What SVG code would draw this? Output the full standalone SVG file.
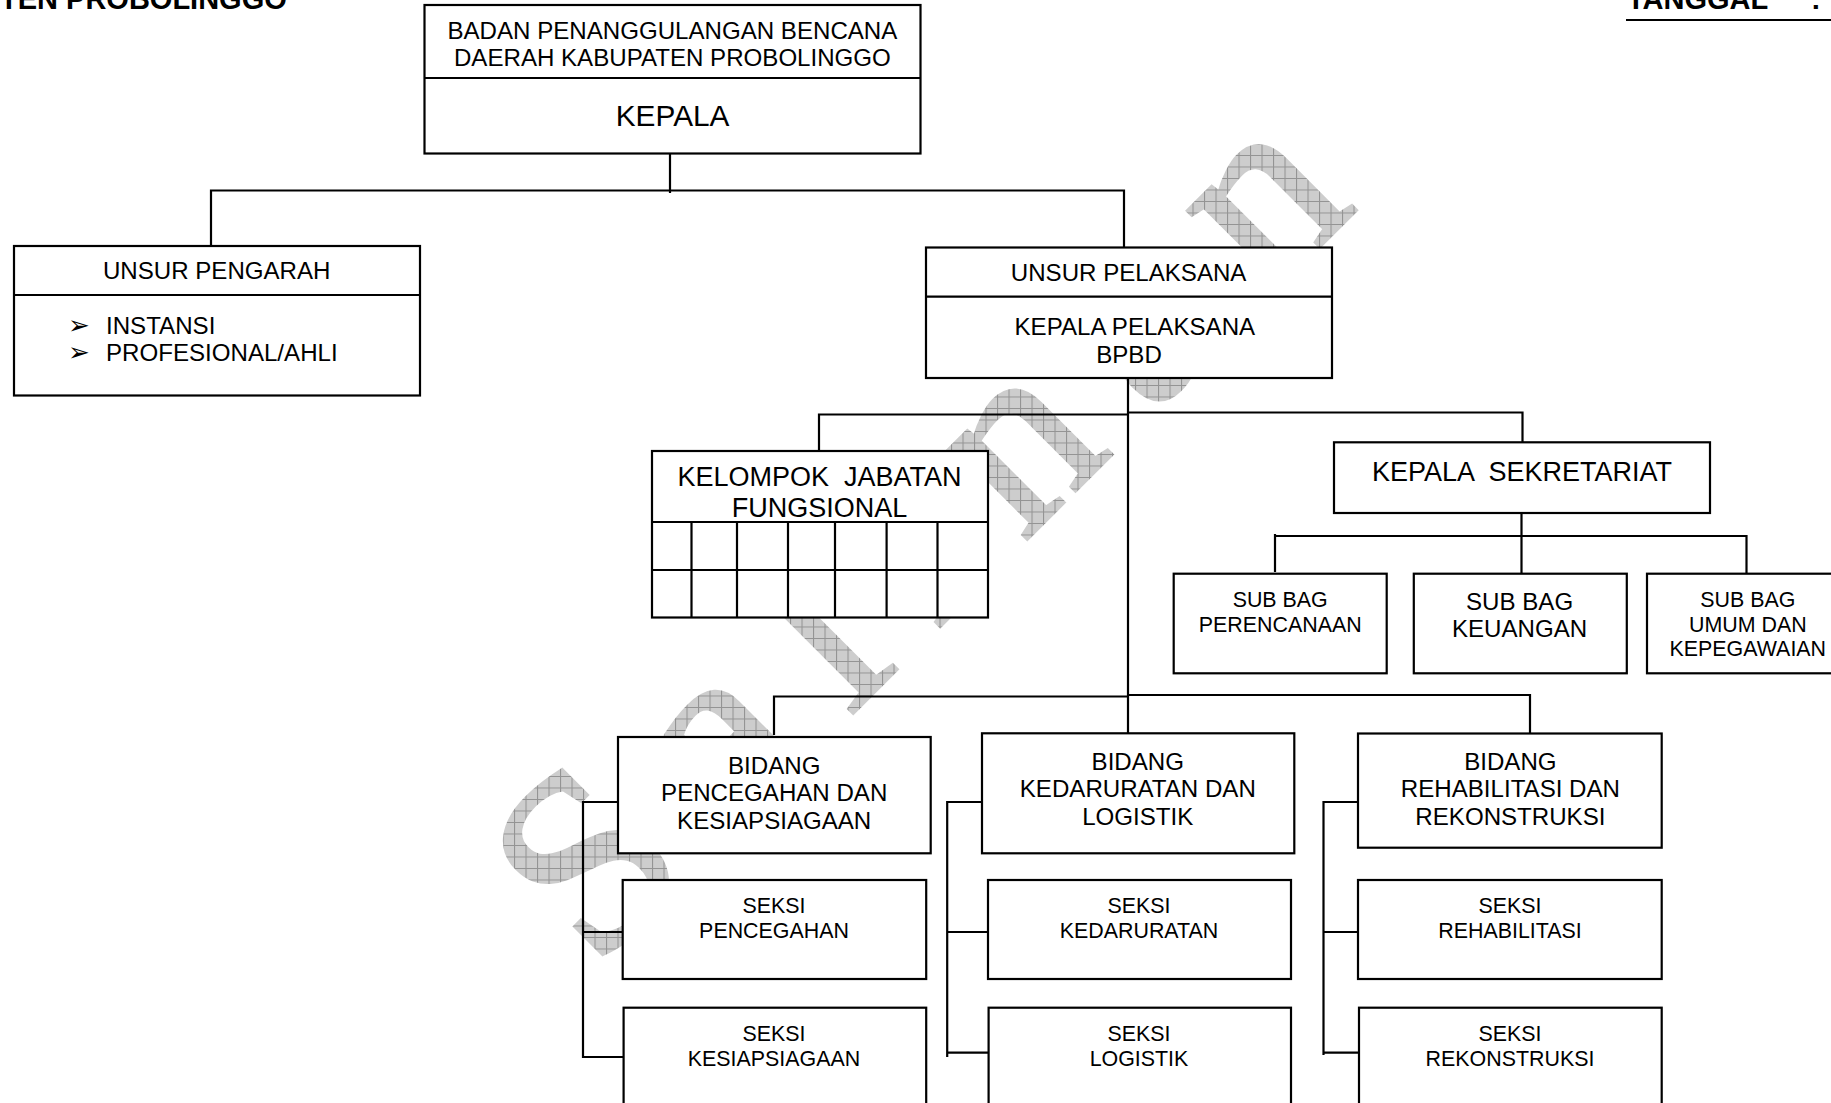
<svg xmlns="http://www.w3.org/2000/svg" width="1831" height="1103" viewBox="0 0 1831 1103">
<style>
.t{font-family:"Liberation Sans",Arial,sans-serif;fill:#000;text-anchor:middle;white-space:pre}
.s22{font-size:21.4px}.s24{font-size:24.1px}.s27{font-size:27px}.s29{font-size:29.8px}
.h{font-family:"Liberation Sans",Arial,sans-serif;font-weight:bold;font-size:29px;fill:#000;white-space:pre}
.b{fill:#fff;stroke:#000;stroke-width:2.2}
.l{fill:none;stroke:#000;stroke-width:2.2}
.c{fill:none;stroke:#000;stroke-width:2.2}
.w{font-family:"Liberation Serif","Times New Roman",serif;font-size:258px;letter-spacing:51px;fill:url(#grid);stroke:url(#grid);stroke-width:4}
.bl{font-family:"DejaVu Sans",sans-serif;font-size:26px;fill:#000}
</style>
<defs>
<pattern id="grid" width="11.5" height="11.5" patternUnits="userSpaceOnUse" patternTransform="rotate(45)">
<rect width="11.5" height="11.5" fill="#cdcdcd"/>
<path d="M0 .5H11.5M.5 0V11.5" stroke="#939393" stroke-width="1.1" fill="none"/>
</pattern>
</defs>
<rect width="1831" height="1103" fill="#fff"/>
<g id="watermark"><text class="w" x="-15.5" transform="translate(606 960) rotate(-45)">Salinan</text></g>
<g id="header">
<text class="h" x="0" y="9">TEN PROBOLINGGO</text>
<text class="h" x="1627" y="9">TANGGAL</text>
<text class="h" x="1811" y="9">:</text>
<path class="l" d="M1626 20H1831"/>
</g>
<g id="connectors">
<path class="c" d="M670 154V193M211 245V190.5H1124V248"/>
<path class="c" d="M1128 378V733M819 452V414.5H1128M1128 412.5H1522.5V442"/>
<path class="c" d="M1521.5 513V576M1275 572V534M1275 536H1746.5V574"/>
<path class="c" d="M774 735V696.5H1128M1128 695H1530V733"/>
<path class="c" d="M618 802H583V1057H624M583 932H623"/>
<path class="c" d="M982 802H947.2V1057M947.2 932H988M947.2 1052.7H988"/>
<path class="c" d="M1358 802H1323.5V1055M1323.5 932H1358M1323.5 1052.7H1359"/>
</g>
<g id="kepala">
<rect class="b" x="424.5" y="5" width="496" height="148.5"/>
<path class="l" d="M424.5 78H920.5"/>
<text class="t s24" x="672.4" y="39.3">BADAN PENANGGULANGAN BENCANA</text>
<text class="t s24" x="672.4" y="66">DAERAH KABUPATEN PROBOLINGGO</text>
<text class="t s29" x="672.6" y="126">KEPALA</text>
</g>
<g id="unsur-pengarah">
<rect class="b" x="14" y="246" width="406" height="149.5"/>
<path class="l" d="M14 295H420"/>
<text class="t s24" x="216.7" y="278.7">UNSUR PENGARAH</text>
<text class="bl" x="68" y="334">➢</text>
<text class="bl" x="68" y="361">➢</text>
<text class="t s24" x="106" y="334" style="text-anchor:start">INSTANSI</text>
<text class="t s24" x="106" y="361" style="text-anchor:start">PROFESIONAL/AHLI</text>
</g>
<g id="unsur-pelaksana">
<rect class="b" x="926" y="247.5" width="406" height="130.5"/>
<path class="l" d="M926 296.7H1332"/>
<text class="t s24" x="1128.6" y="281">UNSUR PELAKSANA</text>
<text class="t s24" x="1134.8" y="335.3">KEPALA PELAKSANA</text>
<text class="t s24" x="1129" y="363.3">BPBD</text>
</g>
<g id="kelompok-jabatan-fungsional">
<rect class="b" x="652" y="451" width="336" height="166.5"/>
<path class="l" d="M652 522H988M652 570H988M691.5 522V617.5M737 522V617.5M788 522V617.5M835 522V617.5M886.6 522V617.5M937.5 522V617.5"/>
<text class="t s27" x="819.6" y="486">KELOMPOK  JABATAN</text>
<text class="t s27" x="819.6" y="516.7">FUNGSIONAL</text>
</g>
<g id="kepala-sekretariat">
<rect class="b" x="1334" y="442.3" width="376" height="70.7"/>
<text class="t s27" x="1522" y="481">KEPALA  SEKRETARIAT</text>
</g>
<g id="subbag-perencanaan">
<rect class="b" x="1173.7" y="573.7" width="213" height="99.6"/>
<text class="t s22" x="1280.2" y="606.7">SUB BAG</text>
<text class="t s22" x="1280.2" y="632">PERENCANAAN</text>
</g>
<g id="subbag-keuangan">
<rect class="b" x="1413.8" y="573.7" width="213" height="99.6"/>
<text class="t s24" x="1519.6" y="610">SUB BAG</text>
<text class="t s24" x="1519.6" y="637">KEUANGAN</text>
</g>
<g id="subbag-umum">
<rect class="b" x="1647" y="573.7" width="213" height="99.6"/>
<text class="t s22" x="1747.8" y="606.7">SUB BAG</text>
<text class="t s22" x="1747.8" y="632">UMUM DAN</text>
<text class="t s22" x="1747.8" y="655.7">KEPEGAWAIAN</text>
</g>
<g id="bidang-pencegahan">
<rect class="b" x="618" y="737" width="312.7" height="116.3"/>
<text class="t s24" x="774.2" y="773.7">BIDANG</text>
<text class="t s24" x="774.2" y="801">PENCEGAHAN DAN</text>
<text class="t s24" x="774.2" y="828.7">KESIAPSIAGAAN</text>
</g>
<g id="seksi-pencegahan">
<rect class="b" x="622.7" y="880" width="303.5" height="99"/>
<text class="t s22" x="774" y="913">SEKSI</text>
<text class="t s22" x="774" y="938">PENCEGAHAN</text>
</g>
<g id="seksi-kesiapsiagaan">
<rect class="b" x="623.6" y="1007.7" width="302.6" height="120"/>
<text class="t s22" x="774" y="1040.7">SEKSI</text>
<text class="t s22" x="774" y="1066">KESIAPSIAGAAN</text>
</g>
<g id="bidang-kedaruratan">
<rect class="b" x="982" y="733.3" width="312.3" height="120"/>
<text class="t s24" x="1137.8" y="770">BIDANG</text>
<text class="t s24" x="1137.8" y="797.3">KEDARURATAN DAN</text>
<text class="t s24" x="1137.8" y="825">LOGISTIK</text>
</g>
<g id="seksi-kedaruratan">
<rect class="b" x="988" y="880" width="303" height="99"/>
<text class="t s22" x="1139" y="913">SEKSI</text>
<text class="t s22" x="1139" y="938">KEDARURATAN</text>
</g>
<g id="seksi-logistik">
<rect class="b" x="988.6" y="1007.7" width="302.4" height="120"/>
<text class="t s22" x="1139" y="1040.7">SEKSI</text>
<text class="t s22" x="1139" y="1066">LOGISTIK</text>
</g>
<g id="bidang-rehabilitasi">
<rect class="b" x="1358" y="733.5" width="303.7" height="114.2"/>
<text class="t s24" x="1510.4" y="770">BIDANG</text>
<text class="t s24" x="1510.4" y="797.3">REHABILITASI DAN</text>
<text class="t s24" x="1510.4" y="825">REKONSTRUKSI</text>
</g>
<g id="seksi-rehabilitasi">
<rect class="b" x="1358" y="880" width="303.7" height="99"/>
<text class="t s22" x="1510" y="913">SEKSI</text>
<text class="t s22" x="1510" y="938">REHABILITASI</text>
</g>
<g id="seksi-rekonstruksi">
<rect class="b" x="1359" y="1007.7" width="302.7" height="120"/>
<text class="t s22" x="1510" y="1040.7">SEKSI</text>
<text class="t s22" x="1510" y="1066">REKONSTRUKSI</text>
</g>
</svg>
